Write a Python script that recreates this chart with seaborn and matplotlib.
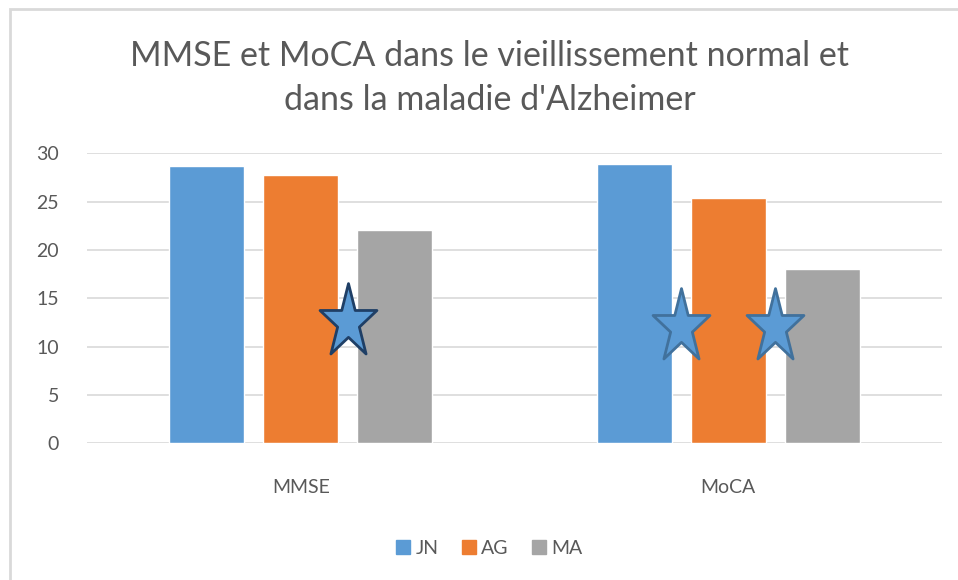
import matplotlib
matplotlib.use('Agg')
import matplotlib.pyplot as plt
import matplotlib.path as mpath
import matplotlib.patches as mpatches
import seaborn as sns
import numpy as np
import pandas as pd

# données
tests = ['MMSE', 'MoCA']
groupes = ['JN', 'AG', 'MA']
scores_jn = [28.7, 28.9]
scores_ag = [27.8, 25.4]
scores_ma = [22.1, 18.0]
couleurs = ['#5b9bd5', '#ed7d31', '#a5a5a5']

# étoiles de significativité : test, paire de groupes, hauteur
etoiles_test = ['MMSE', 'MoCA', 'MoCA']
etoiles_paire = [('AG', 'MA'), ('JN', 'AG'), ('AG', 'MA')]
etoiles_y = [12.5, 12.0, 12.0]
etoiles_bord = ['#1f3f66', '#41719c', '#41719c']

df = pd.DataFrame({
    'test': tests * 3,
    'groupe': [g for g in groupes for _ in tests],
    'score': scores_jn + scores_ag + scores_ma,
})

sns.set_style('white')
plt.rcParams['font.family'] = ['Lato', 'DejaVu Sans']
gris = '#595959'

fig = plt.figure(figsize=(9.58, 5.8), dpi=100)
ax = fig.add_axes([0.0908, 0.2357, 0.8925, 0.5])

sns.barplot(data=df, x='test', y='score', hue='groupe', order=tests,
            hue_order=groupes, palette=couleurs, width=0.66, gap=0.2,
            saturation=1, ax=ax, legend=False, zorder=2)

ax.set_ylim(0, 30)
ax.set_yticks(range(0, 31, 5))
ax.yaxis.grid(True, color='#d9d9d9', lw=1.2, zorder=0)
ax.set_axisbelow(True)
for s in ax.spines.values():
    s.set_visible(False)
ax.tick_params(axis='y', length=0, pad=20, labelsize=14, labelcolor=gris)
ax.tick_params(axis='x', length=0, pad=26, labelsize=14, labelcolor=gris)
ax.set_xlabel('')
ax.set_ylabel('')

# forme d'étoile étirée verticalement
ang = np.pi / 2 + np.arange(10) * np.pi / 5
rayon = np.where(np.arange(10) % 2 == 0, 1.0, 0.382)
verts = np.column_stack([rayon * np.cos(ang), 1.3 * rayon * np.sin(ang)])
verts = np.vstack([verts, verts[:1]])
codes = [mpath.Path.MOVETO] + [mpath.Path.LINETO] * 9 + [mpath.Path.CLOSEPOLY]
etoile = mpath.Path(verts, codes)

for t, (g1, g2), y, bord in zip(etoiles_test, etoiles_paire, etoiles_y, etoiles_bord):
    j = tests.index(t)
    b1 = ax.containers[groupes.index(g1)][j]
    b2 = ax.containers[groupes.index(g2)][j]
    x = (b1.get_x() + b1.get_width() + b2.get_x()) / 2
    ax.plot(x, y, marker=etoile, ms=56, mfc='#5b9bd5', mec=bord, mew=2,
            zorder=5, clip_on=False)

ax.set_xlim(-0.5, len(tests) - 0.5)

fig.text(0.511, 0.866, "MMSE et MoCA dans le vieillissement normal et\ndans la maladie d'Alzheimer",
         ha='center', va='center', fontsize=24.5, color=gris, linespacing=1.45)

poignees = [mpatches.Patch(color=c, label=g) for c, g in zip(couleurs, groupes)]
fig.legend(handles=poignees, loc='center', bbox_to_anchor=(0.511, 0.055), ncol=3,
           frameon=False, fontsize=14, labelcolor=gris, handlelength=0.7,
           handleheight=0.7, handletextpad=0.3, columnspacing=1.2)

# cadre du graphique
fig.patches.append(mpatches.Rectangle((10 / 958, -0.1), 1.1, 1 - 9 / 580 + 0.1,
                                      transform=fig.transFigure, fill=False,
                                      edgecolor='#d9d9d9', lw=2))

fig.savefig('out.png', dpi=100)
